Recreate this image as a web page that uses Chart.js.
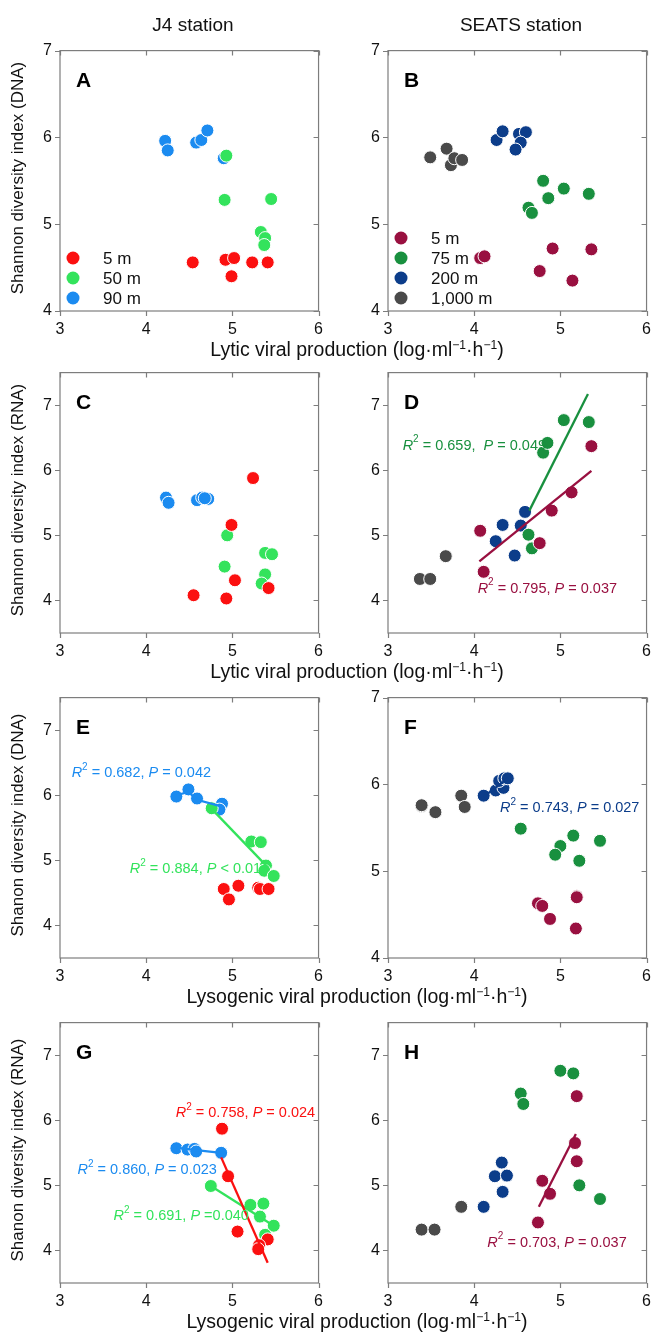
<!DOCTYPE html>
<html>
<head>
<meta charset="utf-8">
<script src="https://cdn.jsdelivr.net/npm/chart.js@4.4.1/dist/chart.umd.min.js"></script>
<style>
  html, body { margin: 0; padding: 0; background: #fff; overflow: hidden; }
  #wrap { position: relative; width: 658px; height: 1335px; overflow: hidden; font-family: "Liberation Sans", Arial, sans-serif; color: #111; }
  .box { position: absolute; }
  .txt { position: absolute; text-align: center; white-space: nowrap; line-height: 22px; height: 22px; }
  .ytitle { transform: rotate(-90deg); transform-origin: 50% 50%; }
  sup { font-size: 0.62em; vertical-align: 0.55em; line-height: 0; }
</style>
</head>
<body>
<div id="wrap"></div>
<script>
// ================================
// DATA  (x = viral production, y = Shannon index)
// ================================
const X_TICKS = [3, 4, 5, 6];
const Y_TICKS = [4, 5, 6, 7];

// A : J4, lytic vs DNA
const A_5m  = [[4.54, 4.56], [4.92, 4.59], [5.02, 4.61], [5.23, 4.56], [5.41, 4.56], [4.99, 4.40]];
const A_50m = [[4.93, 5.79], [4.91, 5.28], [5.45, 5.29], [5.33, 4.91], [5.38, 4.84], [5.37, 4.76]];
const A_90m = [[4.22, 5.96], [4.25, 5.85], [4.58, 5.94], [4.64, 5.97], [4.71, 6.08], [4.90, 5.76]];

// B : SEATS, lytic vs DNA
const B_5m    = [[4.07, 4.61], [4.12, 4.63], [4.91, 4.72], [5.36, 4.71], [4.76, 4.46], [5.14, 4.35]];
const B_75m   = [[4.80, 5.50], [5.04, 5.41], [5.33, 5.35], [4.86, 5.30], [4.63, 5.19], [4.67, 5.13]];
const B_200m  = [[4.26, 5.97], [4.33, 6.07], [4.52, 6.04], [4.60, 6.06], [4.54, 5.94], [4.48, 5.86]];
const B_1000m = [[3.49, 5.77], [3.68, 5.87], [3.73, 5.68], [3.77, 5.76], [3.86, 5.74]];

// C : J4, lytic vs RNA
const C_5m  = [[5.24, 5.88], [4.99, 5.16], [5.03, 4.31], [5.42, 4.19], [4.55, 4.08], [4.93, 4.03]];
const C_50m = [[4.94, 5.00], [5.38, 4.73], [5.46, 4.71], [4.91, 4.52], [5.38, 4.40], [5.34, 4.26]];
const C_90m = [[4.23, 5.58], [4.26, 5.50], [4.59, 5.54], [4.65, 5.58], [4.72, 5.56], [4.68, 5.57]];

// D : SEATS, lytic vs RNA
const D_5m    = [[4.07, 5.07], [4.11, 4.44], [4.76, 4.88], [4.90, 5.38], [5.13, 5.66], [5.36, 6.37]];
const D_75m   = [[4.63, 5.01], [4.67, 4.80], [4.80, 6.27], [4.85, 6.42], [5.04, 6.77], [5.33, 6.74]];
const D_200m  = [[4.25, 4.91], [4.33, 5.16], [4.47, 4.69], [4.54, 5.15], [4.59, 5.36]];
const D_1000m = [[3.37, 4.33], [3.49, 4.33], [3.67, 4.68]];
const D_fit75 = [[4.64, 5.38], [5.32, 7.17]];
const D_fit5  = [[4.06, 4.60], [5.36, 5.99]];

// E : J4, lysogenic vs DNA
const E_5m  = [[4.90, 4.56], [5.07, 4.61], [4.96, 4.40], [5.30, 4.58], [5.32, 4.56], [5.42, 4.56]];
const E_50m = [[4.76, 5.80], [5.22, 5.29], [5.33, 5.28], [5.39, 4.92], [5.37, 4.84], [5.48, 4.76]];
const E_90m = [[4.35, 5.98], [4.49, 6.09], [4.59, 5.95], [4.88, 5.87], [4.85, 5.78]];
const E_fit90 = [[4.35, 6.00], [4.49, 6.05], [4.59, 5.93], [4.87, 5.83]];
const E_fit50 = [[4.76, 5.79], [5.42, 4.88]];

// F : SEATS, lysogenic vs DNA
const F_5m    = [[4.74, 4.63], [4.79, 4.60], [5.19, 4.71], [4.88, 4.45], [5.18, 4.34], [5.19, 4.70]];
const F_75m   = [[4.54, 5.49], [5.15, 5.41], [5.46, 5.35], [5.00, 5.29], [4.94, 5.19], [5.22, 5.12]];
const F_200m  = [[4.11, 5.87], [4.25, 5.93], [4.34, 5.96], [4.29, 6.04], [4.35, 6.07], [4.39, 6.07]];
const F_1000m = [[3.39, 5.75], [3.39, 5.76], [3.55, 5.68], [3.85, 5.87], [3.89, 5.74]];
const F_fit200 = [[4.11, 5.86], [4.39, 6.07]];

// G : J4, lysogenic vs RNA
const G_5m  = [[4.88, 5.87], [4.95, 5.14], [5.06, 4.29], [5.41, 4.17], [5.31, 4.08], [5.30, 4.02]];
const G_50m = [[4.75, 4.99], [5.21, 4.70], [5.36, 4.72], [5.32, 4.52], [5.48, 4.38], [5.38, 4.24]];
const G_90m = [[4.35, 5.57], [4.48, 5.55], [4.56, 5.56], [4.58, 5.52], [4.87, 5.50]];
const G_fit5  = [[4.87, 5.43], [5.41, 3.81]];
const G_fit50 = [[4.75, 4.99], [5.48, 4.38]];
const G_fit90 = [[4.35, 5.58], [4.58, 5.54], [4.87, 5.50]];

// H : SEATS, lysogenic vs RNA
const H_5m    = [[5.19, 6.37], [5.17, 5.65], [5.19, 5.37], [4.79, 5.07], [4.88, 4.87], [4.74, 4.43]];
const H_75m   = [[4.54, 6.41], [4.57, 6.25], [5.00, 6.76], [5.15, 6.72], [5.22, 5.00], [5.46, 4.79]];
const H_200m  = [[4.11, 4.67], [4.24, 5.14], [4.32, 5.35], [4.38, 5.15], [4.33, 4.90]];
const H_1000m = [[3.39, 4.32], [3.54, 4.32], [3.85, 4.67]];
const H_fit5  = [[4.75, 4.67], [5.18, 5.79]];

// ================================
// COLOURS / FONTS
// ================================
const FONT = '"Liberation Sans", Arial, sans-serif';
const RED = "#fb1010", LGREEN = "#33e35c", LBLUE = "#1b8bf0";
const MAROON = "#991040", DGREEN = "#19903f", NAVY = "#0c3d8a", GRAY = "#4a4a4a";

const J4_DEPTHS = ["5 m", "50 m", "90 m"];
const J4_COLORS = [RED, LGREEN, LBLUE];
const SEATS_DEPTHS = ["5 m", "75 m", "200 m", "1,000 m"];
const SEATS_COLORS = [MAROON, DGREEN, NAVY, GRAY];

// ================================
// LAYOUT
// ================================
const COL_LEFT = [60, 388];
const ROW_TOP = [45, 367, 692, 1017];
const PLOT = 266;
const PAD_L = 50, PAD_T = 12, PAD_R = 6, PAD_B = 32;

const wrap = document.getElementById("wrap");

function toXY(arr) {
  return arr.map(p => ({ x: p[0], y: p[1] }));
}

function pointSet(data, color) {
  return {
    data: toXY(data),
    backgroundColor: color,
    borderColor: "#ffffff",
    borderWidth: 1,
    pointRadius: 6.5,
    pointHoverRadius: 6.5
  };
}

function fitSet(data, color) {
  return {
    data: toXY(data),
    showLine: true,
    borderColor: color,
    borderWidth: 2.3,
    pointRadius: 0,
    fill: false
  };
}

// stat text: R² = .., P ..
function stat(r2Text, pText) {
  return [
    { t: "R", it: true }, { t: "2", sup: true }, { t: " = " + r2Text + " " },
    { t: "P", it: true }, { t: " " + pText }
  ];
}

// ================================
// PLUGIN : frame, ticks, letter, legend, notes
// ================================
const panelDecor = {
  id: "panelDecor",
  afterDraw(chart, args, opts) {
    const { ctx, chartArea: a, scales } = chart;
    const x = scales.x, y = scales.y;
    ctx.save();
    ctx.strokeStyle = "#7d7d7d";
    ctx.lineWidth = 1.2;
    ctx.strokeRect(a.left, a.top, a.right - a.left, a.bottom - a.top);
    ctx.beginPath();
    x.ticks.forEach(t => {
      const px = Math.round(x.getPixelForValue(t.value)) + 0.5;
      ctx.moveTo(px, a.bottom); ctx.lineTo(px, a.bottom + 5);
      ctx.moveTo(px, a.top); ctx.lineTo(px, a.top + 5);
    });
    y.ticks.forEach(t => {
      const py = Math.round(y.getPixelForValue(t.value)) + 0.5;
      ctx.moveTo(a.left - 5, py); ctx.lineTo(a.left, py);
      ctx.moveTo(a.right - 5, py); ctx.lineTo(a.right, py);
    });
    ctx.stroke();

    // panel letter
    ctx.fillStyle = "#000";
    ctx.font = "bold 21px " + FONT;
    ctx.textBaseline = "middle";
    ctx.textAlign = "left";
    ctx.fillText(opts.letter, a.left + 16, a.top + 31);

    // legend
    if (opts.legend) {
      const n = opts.legend.labels.length;
      ctx.font = "17px " + FONT;
      opts.legend.labels.forEach((lab, i) => {
        const py = a.bottom - 13 - (n - 1 - i) * 20;
        ctx.beginPath();
        ctx.fillStyle = opts.legend.colors[i];
        ctx.arc(a.left + 13, py, 6.5, 0, Math.PI * 2);
        ctx.fill();
        ctx.fillStyle = "#111";
        ctx.fillText(lab, a.left + 43, py + 1);
      });
    }

    // regression notes (anchored in data units)
    (opts.notes || []).forEach(n => {
      let px = x.getPixelForValue(n.x);
      const py = y.getPixelForValue(n.y);
      ctx.fillStyle = n.color;
      ctx.textBaseline = "middle";
      n.parts.forEach(p => {
        ctx.font = (p.it ? "italic " : "") + (p.sup ? "10px " : "14.5px ") + FONT;
        ctx.fillText(p.t, px, p.sup ? py - 6 : py);
        px += ctx.measureText(p.t).width;
      });
    });
    ctx.restore();
  }
};

// ================================
// PANEL BUILDER
// ================================
function makePanel(col, row, cfg) {
  const W = PAD_L + PLOT + PAD_R, H = PAD_T + PLOT + PAD_B;
  const box = document.createElement("div");
  box.className = "box";
  box.style.left = (COL_LEFT[col] - PAD_L) + "px";
  box.style.top = (ROW_TOP[row] - PAD_T) + "px";
  const cv = document.createElement("canvas");
  cv.width = W; cv.height = H;
  cv.style.width = W + "px"; cv.style.height = H + "px";
  box.appendChild(cv);
  wrap.appendChild(box);

  new Chart(cv, {
    type: "scatter",
    data: { datasets: cfg.datasets },
    options: {
      responsive: false,
      animation: false,
      events: [],
      layout: { padding: { top: PAD_T, right: PAD_R, left: 0, bottom: 0 } },
      scales: {
        x: {
          type: "linear", min: 3, max: 6,
          afterBuildTicks: s => { s.ticks = X_TICKS.map(v => ({ value: v })); },
          afterFit: s => { s.height = PAD_B; },
          grid: { display: false, drawTicks: false },
          border: { display: false },
          ticks: { padding: 9, color: "#111", font: { family: FONT, size: 16 } }
        },
        y: {
          type: "linear", min: cfg.yMin, max: cfg.yMax,
          afterBuildTicks: s => { s.ticks = Y_TICKS.map(v => ({ value: v })); },
          afterFit: s => { s.width = PAD_L; },
          grid: { display: false, drawTicks: false },
          border: { display: false },
          ticks: { padding: 8, color: "#111", font: { family: FONT, size: 16 } }
        }
      },
      plugins: {
        legend: { display: false },
        tooltip: { enabled: false },
        panelDecor: { letter: cfg.letter, legend: cfg.legend, notes: cfg.notes }
      }
    },
    plugins: [panelDecor]
  });
}

// ================================
// PANELS
// ================================
makePanel(0, 0, {
  letter: "A", yMin: 4, yMax: 7,
  legend: { labels: J4_DEPTHS, colors: J4_COLORS },
  datasets: [pointSet(A_5m, RED), pointSet(A_50m, LGREEN), pointSet(A_90m, LBLUE)]
});

makePanel(1, 0, {
  letter: "B", yMin: 4, yMax: 7,
  legend: { labels: SEATS_DEPTHS, colors: SEATS_COLORS },
  datasets: [pointSet(B_5m, MAROON), pointSet(B_75m, DGREEN), pointSet(B_200m, NAVY), pointSet(B_1000m, GRAY)]
});

makePanel(0, 1, {
  letter: "C", yMin: 3.5, yMax: 7.5,
  datasets: [pointSet(C_5m, RED), pointSet(C_50m, LGREEN), pointSet(C_90m, LBLUE)]
});

makePanel(1, 1, {
  letter: "D", yMin: 3.5, yMax: 7.5,
  notes: [
    { x: 3.17, y: 6.38, color: DGREEN, parts: stat("0.659, ", "= 0.049") },
    { x: 4.04, y: 4.18, color: MAROON, parts: stat("0.795,", "= 0.037") }
  ],
  datasets: [fitSet(D_fit75, DGREEN), fitSet(D_fit5, MAROON),
    pointSet(D_5m, MAROON), pointSet(D_75m, DGREEN), pointSet(D_200m, NAVY), pointSet(D_1000m, GRAY)]
});

makePanel(0, 2, {
  letter: "E", yMin: 3.5, yMax: 7.5,
  notes: [
    { x: 3.135, y: 6.335, color: LBLUE, parts: stat("0.682,", "= 0.042") },
    { x: 3.81, y: 4.87, color: LGREEN, parts: stat("0.884,", "< 0.01") }
  ],
  datasets: [fitSet(E_fit90, LBLUE), fitSet(E_fit50, LGREEN),
    pointSet(E_5m, RED), pointSet(E_50m, LGREEN), pointSet(E_90m, LBLUE)]
});

makePanel(1, 2, {
  letter: "F", yMin: 4, yMax: 7,
  notes: [
    { x: 4.30, y: 5.727, color: NAVY, parts: stat("0.743,", "= 0.027") }
  ],
  datasets: [fitSet(F_fit200, NAVY),
    pointSet(F_5m, MAROON), pointSet(F_75m, DGREEN), pointSet(F_200m, NAVY), pointSet(F_1000m, GRAY)]
});

makePanel(0, 3, {
  letter: "G", yMin: 3.5, yMax: 7.5,
  notes: [
    { x: 4.343, y: 6.112, color: RED, parts: stat("0.758,", "= 0.024") },
    { x: 3.203, y: 5.235, color: LBLUE, parts: stat("0.860,", "= 0.023") },
    { x: 3.621, y: 4.524, color: LGREEN, parts: stat("0.691,", "=0.040") }
  ],
  datasets: [fitSet(G_fit5, RED), fitSet(G_fit50, LGREEN), fitSet(G_fit90, LBLUE),
    pointSet(G_5m, RED), pointSet(G_50m, LGREEN), pointSet(G_90m, LBLUE)]
});

makePanel(1, 3, {
  letter: "H", yMin: 3.5, yMax: 7.5,
  notes: [
    { x: 4.153, y: 4.121, color: MAROON, parts: stat("0.703,", "= 0.037") }
  ],
  datasets: [fitSet(H_fit5, MAROON),
    pointSet(H_5m, MAROON), pointSet(H_75m, DGREEN), pointSet(H_200m, NAVY), pointSet(H_1000m, GRAY)]
});

// ================================
// SHARED TITLES
// ================================
function addText(html, cx, cy, size, rotate) {
  const d = document.createElement("div");
  d.className = "txt" + (rotate ? " ytitle" : "");
  d.style.width = "400px";
  d.style.left = (cx - 200) + "px";
  d.style.top = (cy - 11) + "px";
  d.style.fontSize = size + "px";
  d.innerHTML = html;
  wrap.appendChild(d);
}

const UNITS = " (log·ml<sup>−1</sup>·h<sup>−1</sup>)";
addText("J4 station", COL_LEFT[0] + PLOT / 2, 25, 19);
addText("SEATS station", COL_LEFT[1] + PLOT / 2, 25, 19);

addText("Lytic viral production" + UNITS, 357, ROW_TOP[0] + PLOT + 38, 19.5);
addText("Lytic viral production" + UNITS, 357, ROW_TOP[1] + PLOT + 38, 19.5);
addText("Lysogenic viral production" + UNITS, 357, ROW_TOP[2] + PLOT + 38, 19.5);
addText("Lysogenic viral production" + UNITS, 357, ROW_TOP[3] + PLOT + 38, 19.5);

addText("Shannon diversity index (DNA)", 18, ROW_TOP[0] + PLOT / 2, 17, true);
addText("Shannon diversity index (RNA)", 18, ROW_TOP[1] + PLOT / 2, 17, true);
addText("Shanon diversity index (DNA)", 18, ROW_TOP[2] + PLOT / 2, 17, true);
addText("Shanon diversity index (RNA)", 18, ROW_TOP[3] + PLOT / 2, 17, true);
</script>
</body>
</html>
